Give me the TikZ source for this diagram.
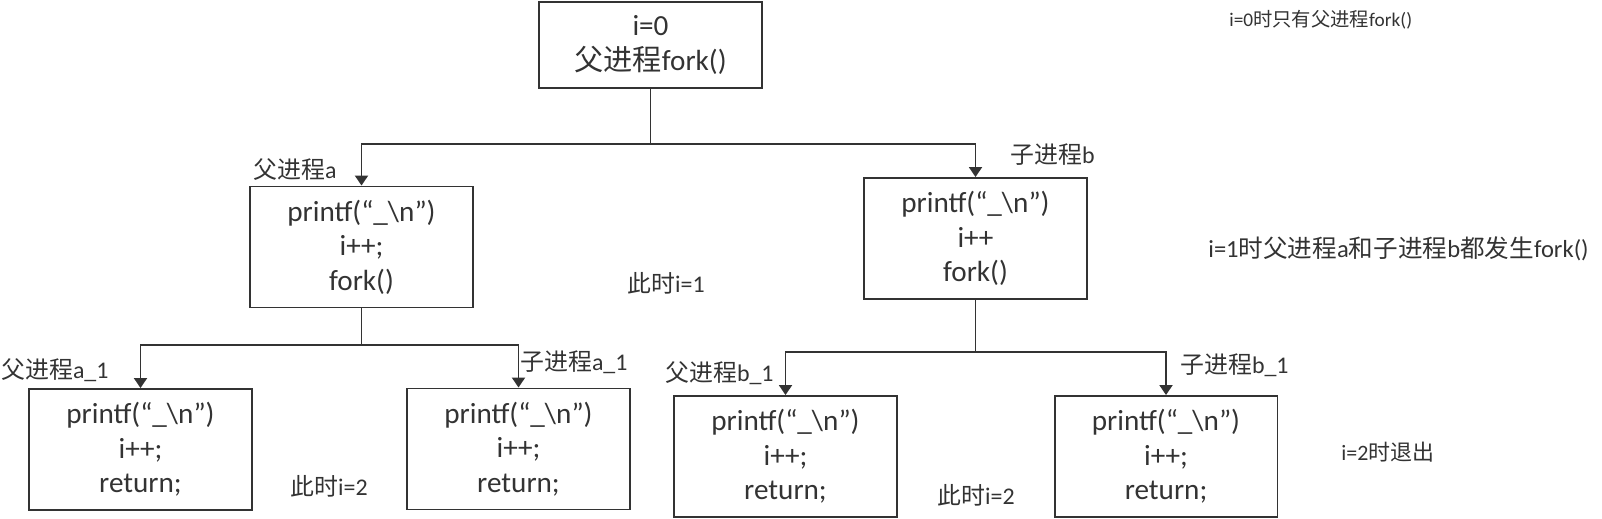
\documentclass[tikz,border=0pt]{standalone}
\usepackage{fontspec}
\setmainfont{Carlito}
\newfontfamily\cjk{Noto Sans CJK SC}
\usetikzlibrary{arrows.meta, positioning}

\newcommand{\zh}[1]{{\cjk #1}}
\newcommand{\prt}{printf(“\_\textbackslash n”)}

\tikzset{
    box/.style={draw=black!80, line width=1.1pt, minimum width=4.46cm, minimum height=2.42cm,
        inner sep=0pt, align=center, text=black!80, font=\fontsize{16.6}{19.6}\selectfont},
    lbl/.style={anchor=west, inner sep=0pt, text=black!80, font=\fontsize{13.6}{16}\selectfont},
    note/.style={lbl, font=\fontsize{12.5}{15}\selectfont},
    wire/.style={draw=black!80, line width=1.1pt},
    conn/.style={wire, -{Triangle[length=0.2cm, width=0.26cm]}}
}

\begin{document}
\begin{tikzpicture}[x=0.02cm, y=-0.02cm]
    \useasboundingbox (0,0) rectangle (1602,519);

    % Processen
    \node[box, minimum height=1.72cm] (p0) at (650.5,45) {i=0\\\zh{父进程}fork()};
    \node[box] (pa) at (361.5,247) {\prt\\i++;\\fork()};
    \node[box] (pb) at (975.5,238.5) {\prt\\i++\\fork()};
    \foreach \n/\x/\y in {a1/140.5/449.5, a2/518.5/449, b1/785.5/456.5, b2/1166/456.5}
        \node[box] (p\n) at (\x,\y) {\prt\\i++;\\return;};

    % Vertakkingen
    \path (p0.south) ++(0,55) coordinate (s0);
    \path (pa.south) ++(0,37) coordinate (sa);
    \path (pb.south) ++(0,52) coordinate (sb);
    \draw[wire] (p0.south) -- (s0);
    \draw[conn] (s0) -| (pa.north);
    \draw[conn] (s0) -| (pb.north);
    \draw[wire] (pa.south) -- (sa);
    \draw[conn] (sa) -| (pa1.north);
    \draw[conn] (sa) -| (pa2.north);
    \draw[wire] (pb.south) -- (sb);
    \draw[conn] (sb) -| (pb1.north);
    \draw[conn] (sb) -| (pb2.north);

    % Labels bij de pijlen
    \node[lbl] (la) at (253,170) {\zh{父进程}a};
    \node[lbl] (lb) at (1010,155) {\zh{子进程}b};
    \node[lbl] (la1) at (1,370) {\zh{父进程}a\_1};
    \node[lbl] (la2) at (520,362) {\zh{子进程}a\_1};
    \node[lbl] (lb1) at (665,373) {\zh{父进程}b\_1};
    \node[lbl] (lb2) at (1180,365) {\zh{子进程}b\_1};

    % Tussenstanden
    \node[lbl] (t1) at (627,283) {\zh{此时}i=1};
    \node[lbl] (t2) at (290,486) {\zh{此时}i=2};
    \node[lbl] (t3) at (937,495) {\zh{此时}i=2};

    % Opmerkingen rechts
    \node[note, font=\fontsize{11}{13}\selectfont] (n0) at (1229,20) {i=0\zh{时只有父进程}fork()};
    \node[note, font=\fontsize{14}{16}\selectfont] (n1) at (1208,249) {i=1\zh{时父进程}a\zh{和子进程}b\zh{都发生}fork()};
    \node[note] (n2) at (1341,452) {i=2\zh{时退出}};
\end{tikzpicture}
\end{document}
